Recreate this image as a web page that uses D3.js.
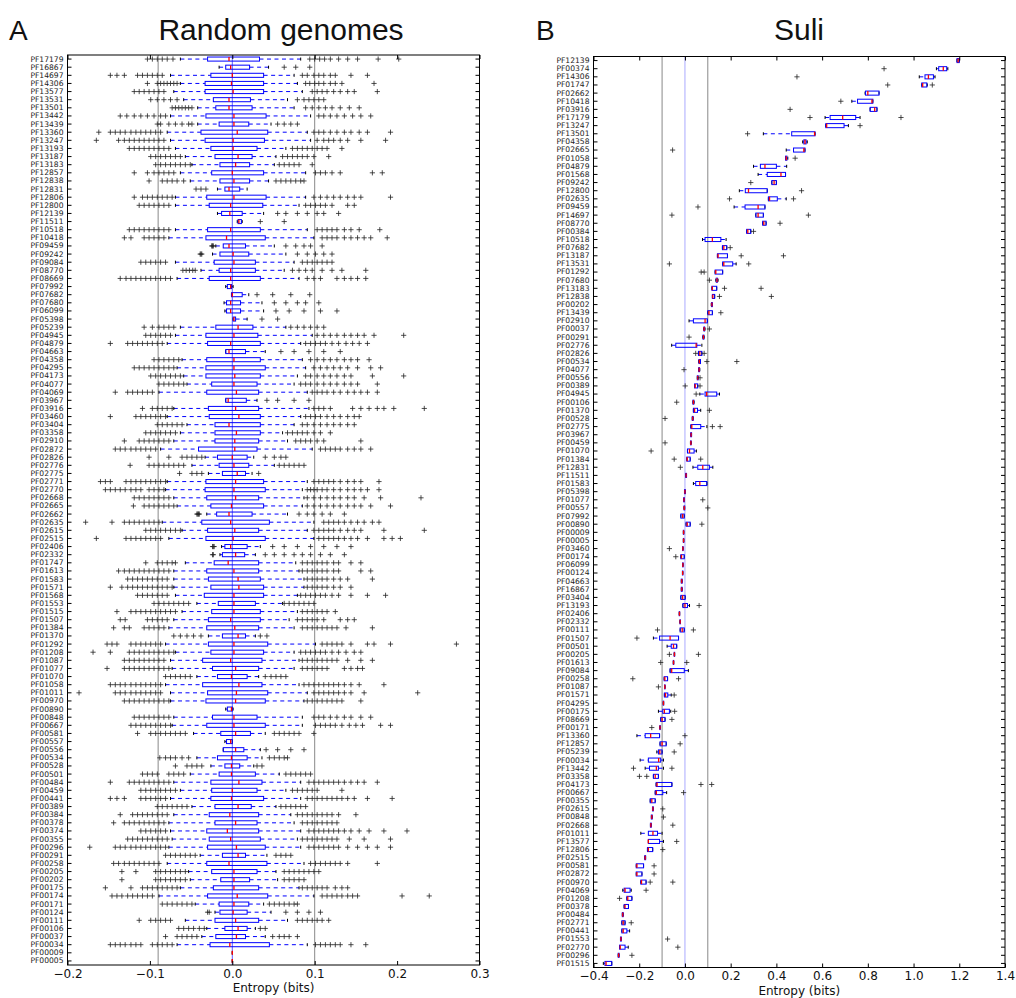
<!DOCTYPE html>
<html>
<head>
<meta charset="utf-8">
<script src="https://cdn.jsdelivr.net/npm/d3@7"></script>
<style>
  body { margin: 0; background: #fff; }
  text { font-family: "DejaVu Sans", sans-serif; }
</style>
</head>
<body>
<script>
// ---- Panel A : random genomes ----
const catsA = ["PF17179","PF16867","PF14697","PF14306","PF13577","PF13531","PF13501","PF13442","PF13439","PF13360",
"PF13247","PF13193","PF13187","PF13183","PF12857","PF12838","PF12831","PF12806","PF12800","PF12139",
"PF11511","PF10518","PF10418","PF09459","PF09242","PF09084","PF08770","PF08669","PF07992","PF07682",
"PF07680","PF06099","PF05398","PF05239","PF04945","PF04879","PF04663","PF04358","PF04295","PF04173",
"PF04077","PF04069","PF03967","PF03916","PF03460","PF03404","PF03358","PF02910","PF02872","PF02826",
"PF02776","PF02775","PF02771","PF02770","PF02668","PF02665","PF02662","PF02635","PF02615","PF02515",
"PF02406","PF02332","PF01747","PF01613","PF01583","PF01571","PF01568","PF01553","PF01515","PF01507",
"PF01384","PF01370","PF01292","PF01208","PF01087","PF01077","PF01070","PF01058","PF01011","PF00970",
"PF00890","PF00848","PF00667","PF00581","PF00557","PF00556","PF00534","PF00528","PF00501","PF00484",
"PF00459","PF00441","PF00389","PF00384","PF00378","PF00374","PF00355","PF00296","PF00291","PF00258",
"PF00205","PF00202","PF00175","PF00174","PF00171","PF00124","PF00111","PF00106","PF00037","PF00034",
"PF00009","PF00005"];

// whisker low, q1, median, q3, whisker high (bits)
const statsA = [
[-.063,-.030,-.004,.033,.083],[-.016,-.008,-.002,.021,.044],[-.075,-.026,0,.038,.075],[-.063,-.033,-.001,.038,.079],
[-.071,-.033,.001,.038,.085],[-.059,-.023,-.004,.022,.067],[-.042,-.020,-.004,.024,.075],[-.075,-.032,.002,.041,.095],
[-.042,-.016,.002,.020,.047],[-.079,-.038,.006,.043,.091],[-.075,-.033,.001,.039,.095],[-.069,-.026,.001,.030,.065],
[-.057,-.021,.007,.024,.053],[-.049,-.015,.004,.021,.051],[-.063,-.025,0,.038,.089],[-.051,-.015,.002,.021,.044],
[-.018,-.009,-.004,.009,.018],[-.069,-.031,.002,.041,.089],[-.069,-.028,-.002,.037,.081],[-.018,-.013,-.003,.012,.038],
[.006,.007,.008,.011,.012],[-.069,-.030,-.002,.034,.091],[-.077,-.032,-.007,.040,.099],[-.020,-.011,-.004,.016,.051],
[-.024,-.015,.001,.020,.065],[-.069,-.022,.002,.028,.075],[-.038,-.016,-.002,.028,.063],[-.067,-.028,-.002,.034,.081],
[-.008,-.006,-.002,-.001,.001],[-.001,-.001,0,.012,.020],[-.010,-.007,-.002,.010,.036],[-.009,-.007,-.002,.010,.038],
[.001,.001,.002,.004,.018],[-.063,-.020,.007,.025,.065],[-.069,-.032,.002,.031,.097],[-.079,-.030,-.002,.034,.083],
[-.008,-.008,-.004,.016,.040],[-.061,-.031,.002,.034,.085],[-.067,-.032,.002,.040,.089],[-.059,-.032,.003,.034,.079],
[-.055,-.025,.002,.030,.075],[-.089,-.031,.005,.032,.091],[-.008,-.008,-.005,.017,.030],[-.071,-.029,.004,.032,.093],
[-.079,-.028,.008,.034,.083],[-.055,-.021,-.004,.034,.075],[-.063,-.021,.005,.034,.061],[-.071,-.021,.003,.032,.067],
[-.087,-.041,.003,.030,.097],[-.033,-.018,0,.018,.026],[-.049,-.016,.002,.020,.051],[-.029,-.012,.006,.016,.024],
[-.079,-.032,.004,.038,.091],[-.081,-.033,.002,.040,.085],[-.071,-.031,.004,.032,.087],[-.067,-.026,-.001,.038,.085],
[-.031,-.019,-.004,.024,.067],[-.085,-.037,-.002,.045,.099],[-.061,-.030,.003,.032,.091],[-.077,-.032,.001,.040,.099],
[-.013,-.009,-.002,.018,.034],[-.015,-.012,.004,.015,.028],[-.057,-.022,-.005,.032,.077],[-.071,-.031,.002,.032,.081],
[-.071,-.029,.007,.034,.087],[-.071,-.026,.008,.038,.087],[-.069,-.034,.002,.038,.079],[-.043,-.017,.002,.028,.061],
[-.061,-.025,.002,.034,.079],[-.071,-.029,-.002,.034,.069],[-.077,-.031,.003,.032,.075],[-.029,-.012,.007,.016,.028],
[-.081,-.029,.002,.043,.101],[-.069,-.026,.002,.038,.075],[-.075,-.036,-.002,.036,.081],[-.073,-.024,.004,.032,.075],
[-.043,-.018,-.001,.018,.032],[-.081,-.036,.008,.036,.081],[-.075,-.030,.005,.043,.091],[-.075,-.032,.004,.040,.087],
[-.008,-.006,-.001,0,.001],[-.071,-.024,.002,.030,.085],[-.073,-.031,.002,.040,.085],[-.047,-.014,.004,.022,.040],
[-.009,-.007,-.002,0,0],[-.011,-.011,.004,.014,.034],[-.043,-.018,-.001,.018,.036],[-.026,-.009,-.001,.009,.026],
[-.051,-.016,-.001,.028,.057],[-.071,-.026,.008,.036,.083],[-.063,-.025,0,.030,.065],[-.075,-.026,-.001,.038,.083],
[-.049,-.021,.007,.023,.053],[-.071,-.028,-.003,.032,.071],[-.077,-.021,.004,.030,.075],[-.075,-.031,-.006,.032,.083],
[-.073,-.028,-.002,.034,.079],[-.077,-.030,.005,.040,.083],[-.039,-.012,.007,.016,.042],[-.079,-.031,-.004,.042,.087],
[-.053,-.025,.002,.030,.053],[-.051,-.014,.002,.021,.055],[-.063,-.023,.002,.032,.081],[-.089,-.030,.006,.043,.099],
[-.045,-.016,.002,.020,.038],[-.021,-.015,.001,.018,.047],[-.057,-.021,.004,.032,.067],[-.031,-.009,.007,.018,.028],
[-.037,-.020,.005,.016,.040],[-.067,-.027,-.003,.045,.091],[0,0,0,0,0],[0,0,0,0,0]
];

// outliers per family (bits)
const outA = [
[-.103,-.097,-.091,-.085,-.079,-.072,.094,.100,.106,.112,.119,.129,.140,.152,.177,.202],
[.063,.077,.094],
[-.148,-.140,-.131,-.115,-.109,-.103,-.097,-.091,-.085,.085,.091,.099,.105,.111,.119,.125,.144,.164],
[-.103,-.091,-.087,-.083,-.079,-.075,-.071,-.067,.089,.094,.100,.105,.111,.119,.125,.133,.172],
[-.119,-.113,-.107,-.101,-.095,-.089,-.083,.097,.103,.109,.115,.123,.131,.140,.148,.176],
[-.099,-.091,-.083,-.075,-.067,.079,.087,.093,.099,.105,.111],
[-.073,-.069,-.065,-.061,-.057,-.053,-.049,.089,.097,.105,.113,.121,.131,.142,.154],
[-.136,-.128,-.119,-.111,-.103,-.095,-.087,-.081,.105,.111,.119,.127,.136,.146,.156,.168],
[-.091,-.087,-.077,-.069,-.061,-.053,-.049,.055,.063,.071,.079],
[-.162,-.148,-.142,-.136,-.130,-.123,-.117,-.111,-.105,-.099,-.093,-.087,.099,.105,.111,.119,.127,.136,.144,.154,.164,.192],
[-.165,-.138,-.131,-.125,-.119,-.113,-.107,-.101,-.095,-.089,-.083,.103,.111,.117,.123,.131,.140,.156,.186],
[-.125,-.119,-.113,-.107,-.101,-.095,-.089,-.083,-.077,.073,.079,.085,.091,.097,.103,.109,.115,.133],
[-.099,-.093,-.087,-.081,-.075,-.069,-.063,.061,.067,.073,.079,.085,.091,.099,.117],
[-.093,-.087,-.081,-.075,-.069,-.063,-.057,-.051,.057,.063,.069,.075,.081,.097],
[-.119,-.103,-.095,-.089,-.083,-.077,-.071,.101,.107,.113,.121,.131,.170,.182],
[-.101,-.085,-.079,-.073,-.067,-.059,.053,.059,.065,.071,.077,.083,.087],
[-.044,-.038,-.032],
[-.119,-.109,-.103,-.097,-.091,-.085,-.079,-.073,.099,.107,.115,.123,.131,.140,.148,.156,.192],
[-.113,-.107,-.101,-.095,-.089,-.083,-.077,.089,.095,.101,.107,.113,.121,.140,.148],
[.055,.065,.079,.091,.103,.111,.129],
[.034,.063],
[-.125,-.119,-.113,-.107,-.101,-.095,-.089,-.083,-.077,.103,.109,.115,.121,.127,.136,.144,.154,.179],
[-.131,-.123,-.107,-.101,-.095,-.089,-.083,.109,.115,.121,.127,.136,.144,.152,.160,.168,.188],
[-.025,-.024,-.023,.065,.077,.087,.095,.109],
[-.039,-.038,-.037,.079,.091,.101,.111,.121],
[-.111,-.105,-.099,-.093,-.087,-.081,.085,.091,.097,.103,.109,.115,.121],
[-.060,-.056,-.052,-.048,-.045,.073,.081,.089,.097,.109,.121,.133,.162],
[-.136,-.129,-.123,-.117,-.111,-.105,-.099,-.093,-.087,-.081,-.075,.091,.099,.107,.127,.136,.144,.152,.162],
[],
[.030,.049,.071,.094],
[.051,.065,.079,.089,.105],
[.053,.069,.087,.107,.127],
[.036,.055],
[-.107,-.097,-.089,-.083,-.077,-.071,.071,.079,.087,.095,.103,.111],
[-.105,-.099,-.093,-.087,-.081,-.075,.103,.111,.119,.127,.136,.144,.152,.160,.172,.208],
[-.148,-.127,-.121,-.115,-.109,-.103,-.097,-.091,-.085,.089,.095,.101,.107,.113,.121,.129,.138,.146,.154,.164],
[.059,.075,.093,.111,.131],
[-.095,-.089,-.083,-.077,-.071,-.065,.095,.103,.111,.119,.127,.136,.144,.152,.166],
[-.119,-.113,-.107,-.101,-.095,-.089,-.083,-.077,-.071,.099,.107,.115,.123,.131,.140,.152,.168,.180],
[-.099,-.093,-.087,-.081,-.075,-.069,-.063,.089,.095,.103,.111,.119,.127,.136,.144,.170,.208],
[-.089,-.083,-.077,-.071,-.065,-.059,.083,.089,.095,.103,.111,.119,.127,.136,.144,.152,.176],
[-.142,-.127,-.121,-.115,-.109,-.103,-.097,.097,.103,.109,.115,.123,.131,.140,.148,.156,.164,.176],
[.042,.055,.075,.093],
[-.109,-.097,-.091,-.085,-.079,-.073,.099,.105,.111,.119,.146,.156,.166,.176,.184,.196,.233],
[-.148,-.117,-.111,-.105,-.099,-.093,-.087,-.081,.089,.095,.101,.107,.115,.123,.131,.140,.148,.154],
[-.091,-.085,-.079,-.073,-.067,-.061,.085,.091,.099,.107,.115,.123,.131,.140,.148],
[-.105,-.099,-.093,-.087,-.081,-.075,-.069,.067,.073,.079,.085,.091,.099,.107,.119],
[-.131,-.113,-.107,-.101,-.095,-.089,-.083,-.077,.077,.083,.089,.095,.103,.111,.156],
[-.142,-.136,-.130,-.123,-.117,-.111,-.105,-.099,-.093,.107,.113,.119,.125,.131,.140,.148,.156,.168],
[-.101,-.077,-.061,-.055,-.049,-.043,-.037,.040,.051,.059,.065],
[-.124,-.101,-.095,-.089,-.083,-.077,-.071,-.065,-.059,.057,.063,.069,.075,.081,.087],
[-.064,-.049,-.043,-.037,.032],
[-.160,-.154,-.148,-.129,-.123,-.117,-.111,-.105,-.099,-.093,-.087,-.081,.099,.105,.111,.117,.123,.131,.140,.148,.156,.178],
[-.154,-.148,-.142,-.136,-.130,-.123,-.117,-.111,-.101,-.095,-.089,-.083,.091,.095,.099,.103,.109,.115,.123,.131,.140,.148,.156,.164,.178],
[-.119,-.113,-.107,-.101,-.095,-.089,-.083,-.077,.091,.099,.107,.115,.123,.131,.140,.148,.160,.180,.229],
[-.120,-.107,-.101,-.095,-.089,-.083,-.077,-.071,.091,.099,.107,.115,.123,.131,.140,.148,.156,.168,.192],
[-.043,-.042,-.041,-.040,.081,.091,.099,.109,.119,.136],
[-.178,-.146,-.131,-.125,-.119,-.113,-.107,-.101,-.095,-.089,.111,.117,.123,.129,.136,.144,.152,.160,.170,.178],
[-.105,-.099,-.093,-.087,-.081,-.075,-.069,-.063,.099,.105,.111,.117,.123,.131,.140,.148,.156,.184,.233],
[-.165,-.129,-.123,-.117,-.111,-.105,-.099,-.093,-.087,.105,.111,.117,.123,.129,.136,.144,.152,.164,.184,.194,.204],
[-.024,-.023,-.022,.049,.063,.079,.095,.111,.127,.144],
[-.024,-.023,.040,.051,.063,.075,.085,.095,.107,.119,.136],
[-.105,-.091,-.085,-.079,-.073,-.069,.085,.091,.097,.103,.109,.115,.123,.129,.144,.156],
[-.138,-.131,-.125,-.119,-.113,-.107,-.101,-.095,-.089,-.083,-.077,.085,.091,.097,.103,.109,.115,.123,.129,.156,.168],
[-.127,-.121,-.115,-.109,-.103,-.097,-.091,-.085,-.079,.091,.097,.103,.109,.115,.123,.131,.140,.170],
[-.148,-.134,-.127,-.121,-.115,-.109,-.103,-.097,-.091,-.085,-.079,-.073,.091,.097,.103,.109,.115,.123,.131,.144],
[-.115,-.109,-.103,-.097,-.091,-.085,-.079,.083,.089,.095,.101,.107,.113,.121,.129,.144,.164,.186],
[-.095,-.089,-.083,-.077,-.071,-.065,-.059,-.053,.063,.069,.075,.081,.087,.093,.099],
[-.140,-.123,-.117,-.111,-.105,-.099,-.093,-.087,-.081,-.075,-.069,.085,.091,.097,.103,.109,.115,.125],
[-.136,-.130,-.103,-.097,-.091,-.085,-.079,.079,.085,.091,.097,.103,.111,.131,.140,.148],
[-.144,-.131,-.125,-.107,-.101,-.095,-.089,-.083,.085,.091,.097,.103,.109,.115,.121,.127,.138,.170],
[-.071,-.063,-.055,-.047,-.038,.034,.042],
[-.152,-.146,-.140,-.123,-.117,-.111,-.105,-.099,-.093,-.087,.109,.115,.121,.127,.133,.144,.164,.172,.192,.272],
[-.169,-.148,-.125,-.119,-.113,-.107,-.101,-.095,-.089,-.083,-.077,-.071,.083,.089,.095,.101,.107,.113,.121,.129,.138,.148,.156],
[-.131,-.125,-.119,-.113,-.107,-.101,-.095,-.089,-.083,.085,.091,.097,.103,.109,.115,.121,.127,.140,.156,.170],
[-.152,-.131,-.125,-.119,-.113,-.107,-.101,-.095,-.089,-.083,-.077,.085,.091,.097,.103,.109,.115,.136,.144,.152,.158],
[-.081,-.075,-.069,-.063,-.057,-.051,.040,.047,.053,.059,.065],
[-.148,-.142,-.136,-.130,-.123,-.117,-.111,-.105,-.099,-.093,-.087,.087,.093,.099,.105,.111,.117,.123,.129,.136,.144,.154,.184],
[-.186,-.142,-.136,-.130,-.123,-.117,-.111,-.105,-.099,-.093,-.087,.099,.105,.111,.117,.123,.129,.136,.144,.160,.225],
[-.131,-.125,-.119,-.113,-.107,-.101,-.095,-.089,-.083,-.077,.091,.097,.103,.109,.115,.121,.127,.133,.156],
[],
[-.119,-.113,-.107,-.101,-.095,-.089,-.083,-.077,.099,.105,.111,.119,.127,.136,.144,.156,.168],
[-.123,-.117,-.111,-.105,-.099,-.093,-.087,-.081,-.075,.101,.107,.113,.119,.125,.133,.142,.150,.158,.180,.192],
[-.115,-.099,-.093,-.087,-.081,-.075,-.069,-.063,-.057,.051,.057,.063,.069,.075,.081,.099],
[],
[.041,.055,.071,.087],
[-.088,-.081,-.075,-.069,-.061,-.053,.045,.051,.057,.063,.067],
[-.069,-.055,-.049,-.043,-.037,.030,.036],
[-.109,-.103,-.097,-.091,-.077,-.071,-.065,-.059,.065,.071,.077,.083,.089,.095],
[-.148,-.125,-.119,-.113,-.107,-.101,-.095,-.089,-.083,-.077,.093,.099,.105,.111,.117,.123,.129,.136,.144,.152,.160,.176],
[-.111,-.105,-.099,-.093,-.087,-.081,-.075,-.069,.073,.079,.085,.091,.097,.103,.133],
[-.148,-.140,-.131,-.111,-.105,-.099,-.093,-.087,-.081,.091,.097,.103,.109,.115,.121,.127,.133,.140,.148,.164,.194],
[-.091,-.085,-.079,-.073,-.067,-.061,-.055,.059,.065,.071,.077,.083,.089],
[-.136,-.121,-.115,-.109,-.103,-.097,-.091,-.085,-.079,.079,.085,.091,.097,.103,.109,.115,.121,.129,.150],
[-.144,-.131,-.125,-.119,-.113,-.107,-.101,-.095,-.089,-.083,.085,.091,.097,.103,.109,.115,.121,.127],
[-.111,-.105,-.099,-.093,-.087,-.081,.093,.099,.105,.111,.117,.123,.129,.136,.144,.154,.166,.184,.212],
[-.127,-.121,-.115,-.109,-.103,-.097,-.091,-.085,-.079,.085,.091,.097,.103,.109,.115,.121,.127,.142,.160,.192],
[-.173,-.142,-.136,-.130,-.123,-.117,-.111,-.105,-.099,-.093,-.087,-.081,.093,.099,.105,.111,.117,.123,.129,.140,.152,.164,.176,.192],
[-.081,-.075,-.069,-.063,-.057,-.051,-.045,.053,.059,.065,.071],
[-.144,-.138,-.131,-.125,-.119,-.113,-.107,-.101,-.095,-.089,.095,.101,.107,.113,.119,.125,.131,.140,.176],
[-.134,-.117,-.093,-.087,-.081,-.075,-.069,-.063,-.057,.063,.069,.075,.081,.087,.093,.099,.105],
[-.134,-.093,-.087,-.081,-.075,-.069,-.063,-.057,.063,.069,.075,.081,.087],
[-.154,-.123,-.109,-.103,-.097,-.091,-.085,-.079,-.073,-.067,.085,.091,.097,.103,.109,.115,.125,.133,.140],
[-.146,-.140,-.134,-.127,-.121,-.115,-.109,-.103,-.097,.109,.115,.121,.127,.133,.140,.146,.152,.206,.239],
[-.085,-.079,-.073,-.067,-.061,-.055,-.049,.045,.051,.057,.063,.069,.075,.079],
[-.030,-.028,.065,.079,.093,.107],
[-.113,-.099,-.093,-.087,-.081,-.075,.079,.085,.091,.097,.103,.109,.117],
[-.065,-.059,-.053,-.047,-.040,-.034,.034,.040],
[-.081,-.067,-.061,-.055,-.049,-.043,.049,.057,.063,.069,.079],
[-.148,-.142,-.136,-.130,-.123,-.117,-.111,-.097,-.091,-.085,-.079,-.073,.101,.107,.113,.119,.125,.131,.144,.162],
[],[]
];

// ---- Panel B : Suli ----
const catsB = ["PF12139","PF00374","PF14306","PF01747","PF02662","PF10418","PF03916","PF17179","PF13247","PF13501",
"PF04358","PF02665","PF01058","PF04879","PF01568","PF09242","PF12800","PF02635","PF09459","PF14697",
"PF08770","PF00384","PF10518","PF07682","PF13187","PF13531","PF01292","PF07680","PF13183","PF12838",
"PF00202","PF13439","PF02910","PF00037","PF00291","PF02776","PF02826","PF00534","PF04077","PF00556",
"PF00389","PF04945","PF00106","PF01370","PF00528","PF02775","PF03967","PF00459","PF01070","PF01384",
"PF12831","PF11511","PF01583","PF05398","PF01077","PF00557","PF07992","PF00890","PF00009","PF00005",
"PF03460","PF00174","PF06099","PF00124","PF04663","PF16867","PF03404","PF13193","PF02406","PF02332",
"PF00111","PF01507","PF00501","PF00205","PF01613","PF09084","PF00258","PF01087","PF01571","PF04295",
"PF00175","PF08669","PF00171","PF13360","PF12857","PF05239","PF00034","PF13442","PF03358","PF04173",
"PF00667","PF00355","PF02615","PF00848","PF02668","PF01011","PF13577","PF12806","PF02515","PF00581",
"PF02872","PF00970","PF04069","PF01208","PF00378","PF00484","PF02771","PF00441","PF01553","PF02770",
"PF00296","PF01515"];

const statsB = [
[1.19,1.19,1.195,1.20,1.20],[1.10,1.11,1.13,1.145,1.15],[1.025,1.05,1.065,1.087,1.094],[1.036,1.036,1.04,1.058,1.06],
[.788,.79,.80,.849,.849],[.73,.755,.818,.822,.822],[.81,.81,.83,.84,.84],[.613,.635,.69,.747,.766],
[.616,.616,.62,.696,.715],[.343,.467,.567,.569,.569],[.515,.52,.525,.53,.535],[.443,.475,.52,.525,.525],
[.44,.44,.443,.446,.45],[.30,.33,.35,.40,.445],[.32,.36,.42,.44,.44],[.38,.38,.39,.40,.40],
[.238,.264,.278,.36,.36],[.365,.365,.37,.404,.443],[.215,.263,.32,.35,.35],[.31,.31,.32,.343,.343],
[.34,.34,.345,.355,.355],[.27,.27,.275,.288,.288],[.077,.088,.12,.157,.18],[.164,.164,.17,.183,.183],
[.142,.142,.145,.186,.186],[.165,.165,.17,.209,.224],[.132,.132,.135,.165,.165],[.135,.137,.14,.142,.145],
[.118,.118,.12,.139,.139],[.12,.12,.122,.13,.13],[.115,.116,.118,.12,.12],[.10,.10,.105,.12,.12],
[.018,.037,.088,.098,.098],[.082,.083,.084,.086,.088],[.078,.079,.081,.083,.084],[-.058,-.04,.049,.052,.074],
[.059,.059,.065,.074,.074],[.06,.061,.063,.068,.068],[.06,.06,.062,.064,.065],[.054,.054,.056,.058,.058],
[.042,.042,.045,.056,.056],[.065,.088,.095,.139,.151],[.035,.035,.037,.039,.04],[.037,.037,.042,.055,.069],
[.032,.032,.034,.036,.036],[.026,.026,.03,.069,.096],[.025,.025,.027,.029,.029],[.024,.025,.026,.027,.028],
[.011,.011,.02,.04,.05],[.008,.008,.01,.023,.023],[.035,.056,.078,.107,.122],[.003,.003,.005,.007,.007],
[.037,.047,.065,.096,.096],[-.002,-.002,0,.002,.002],[-.006,-.006,-.004,-.002,-.002],[-.004,-.004,-.003,-.001,-.001],
[-.018,-.018,-.01,-.003,-.003],[.005,.005,.01,.023,.023],[-.007,-.007,-.006,-.005,-.005],[-.007,-.007,-.006,-.005,-.005],
[-.01,-.01,-.009,-.008,-.008],[-.018,-.018,-.015,-.003,-.003],[-.01,-.01,-.009,-.008,-.008],[-.011,-.011,-.01,-.009,-.009],
[-.016,-.016,-.014,-.012,-.012],[-.016,-.016,-.014,-.012,-.012],[-.018,-.018,-.01,.001,.001],[-.009,-.009,0,.011,.02],
[-.025,-.025,-.024,-.023,-.023],[-.022,-.022,-.021,-.020,-.020],[-.021,-.021,-.012,-.003,-.003],[-.138,-.111,-.065,-.028,-.028],
[-.078,-.06,-.05,-.036,-.036],[-.047,-.047,-.046,-.045,-.045],[-.051,-.051,-.05,-.049,-.049],[-.065,-.065,-.058,-.003,.015],
[-.091,-.091,-.088,-.076,-.076],[-.089,-.089,-.088,-.087,-.087],[-.09,-.09,-.085,-.075,-.06],[-.095,-.095,-.094,-.093,-.093],
[-.116,-.097,-.09,-.068,-.062],[-.106,-.106,-.1,-.087,-.087],[-.11,-.11,-.109,-.108,-.108],[-.21,-.174,-.15,-.111,-.111],
[-.109,-.109,-.1,-.082,-.082],[-.123,-.116,-.11,-.10,-.10],[-.196,-.16,-.115,-.106,-.094],[-.174,-.155,-.125,-.116,-.094],
[-.138,-.138,-.13,-.116,-.116],[-.126,-.126,-.122,-.057,-.057],[-.13,-.13,-.125,-.097,-.08],[-.152,-.152,-.145,-.13,-.13],
[-.142,-.142,-.14,-.138,-.138],[-.147,-.147,-.145,-.143,-.143],[-.151,-.151,-.149,-.147,-.147],[-.193,-.16,-.14,-.12,-.10],
[-.16,-.16,-.16,-.111,-.094],[-.164,-.164,-.16,-.141,-.141],[-.176,-.176,-.174,-.172,-.172],[-.213,-.213,-.21,-.181,-.181],
[-.213,-.213,-.21,-.188,-.188],[-.193,-.193,-.19,-.17,-.17],[-.272,-.266,-.262,-.24,-.235],[-.254,-.254,-.25,-.232,-.232],
[-.266,-.266,-.262,-.247,-.247],[-.274,-.274,-.272,-.270,-.270],[-.276,-.276,-.27,-.262,-.262],[-.276,-.276,-.27,-.254,-.242],
[-.282,-.282,-.28,-.278,-.278],[-.286,-.286,-.283,-.262,-.248],[-.292,-.292,-.29,-.288,-.288],[-.357,-.35,-.345,-.32,-.32]
];

const outB = [
[],[.871],[.49],[1.082,.887],[],[.682],[.46],[.547,.945],[.766],[.274],
[],[-.054],[.482],[],[],[.288],[.51],[.475,.195],[.057],[.54,-.057],
[.416],[.30],[],[.198],[.246,.431],[.279,-.068],[.071,.084],[.107],[.173,.333],[.151,.378],
[],[.157],[],[.107],[.018],[],[.047,.084],[.096,.227],[-.004],[.066],
[.001,.066],[.049],[-.036],[.107],[-.087],[.12,.154],[],[-.087],[-.148],[-.047,.069],
[-.02],[],[],[],[.078],[.10],[],[.074],[],[],
[-.068],[-.04],[],[],[],[],[],[.062],[],[],
[-.12,.037],[-.21],[],[-.068,.059],[-.106,.008],[],[-.228,-.028],[-.116],[-.047],[],
[-.045],[-.057],[-.145],[0],[-.021],[-.047],[],[-.225,-.057],[-.199,-.167],[.07,.117],
[-.006],[],[-.097],[-.094],[-.053],[],[-.036],[-.097],[],[-.135],
[-.135],[-.152,-.053],[-.17],[-.286],[],[],[-.235],[],[-.076],[-.031],
[-.232],[]
];

const ticksA = [-0.2, -0.1, 0, 0.1, 0.2, 0.3];
const ticksB = [-0.4, -0.2, 0, 0.2, 0.4, 0.6, 0.8, 1.0, 1.2, 1.4];
const refsA = [-0.09, 0, 0.1];
const refsB = [-0.1, 0, 0.1];

const width = 1016, height = 998;
const svg = d3.select("body").append("svg").attr("width", width).attr("height", height);

function drawPanel(cats, stats, out, x, y, ticks, refs, zeroColor, labelY) {
    const g = svg.append("g");
    const h = y.bandwidth();
    const bh = h * 0.5;
    const top = y.range()[0], bottom = y.range()[1];
    const left = x.range()[0], right = x.range()[1];

    // vertical reference lines
    g.selectAll("line.ref").data(refs).join("line")
        .attr("x1", d => x(d)).attr("x2", d => x(d))
        .attr("y1", top).attr("y2", bottom)
        .attr("stroke", d => d === 0 ? zeroColor : "#7a7a7a")
        .attr("stroke-width", 0.9);

    const rows = g.selectAll("g.row")
        .data(cats.map((c, i) => ({ c: c, s: stats[i], o: out[i] })))
        .join("g")
        .attr("transform", d => "translate(0," + (y(d.c) + h / 2) + ")");

    // whiskers (dashed)
    rows.filter(d => d.s[1] > d.s[0]).append("line")
        .attr("x1", d => x(d.s[0])).attr("x2", d => x(d.s[1]))
        .attr("stroke", "#0000ff").attr("stroke-width", 1).attr("stroke-dasharray", "4,3.5");
    rows.filter(d => d.s[4] > d.s[3]).append("line")
        .attr("x1", d => x(d.s[3])).attr("x2", d => x(d.s[4]))
        .attr("stroke", "#0000ff").attr("stroke-width", 1).attr("stroke-dasharray", "4,3.5");

    // caps
    rows.selectAll("line.cap").data(d => [d.s[0], d.s[4]]).join("line")
        .attr("x1", v => x(v)).attr("x2", v => x(v))
        .attr("y1", -bh / 4 - 0.5).attr("y2", bh / 4 + 0.5)
        .attr("stroke", "#000").attr("stroke-width", 1);

    // box
    rows.append("rect")
        .attr("x", d => x(d.s[1])).attr("width", d => x(d.s[3]) - x(d.s[1]))
        .attr("y", -bh / 2).attr("height", bh)
        .attr("fill", "none").attr("stroke", "#0000ff").attr("stroke-width", 1);

    // median
    rows.append("line")
        .attr("x1", d => x(d.s[2])).attr("x2", d => x(d.s[2]))
        .attr("y1", -bh / 2).attr("y2", bh / 2)
        .attr("stroke", "#ff0000").attr("stroke-width", 1.3);

    // outliers
    rows.selectAll("path.fl").data(d => d.o).join("path")
        .attr("d", v => "M" + (x(v) - 2.6) + ",0h5.2M" + x(v) + ",-2.6v5.2")
        .attr("stroke", "#222").attr("stroke-width", 0.8).attr("fill", "none");

    // frame
    g.append("rect").attr("x", left).attr("y", top)
        .attr("width", right - left).attr("height", bottom - top)
        .attr("fill", "none").attr("stroke", "#000").attr("stroke-width", 1);

    // axes, ticks pointing inwards
    const fmt = d3.format(".1f");
    const yl = g.append("g").attr("transform", "translate(" + left + ",0)")
        .call(d3.axisLeft(y).tickSize(-4).tickPadding(4));
    yl.select(".domain").remove();
    yl.selectAll("text").attr("font-size", 7.6).attr("fill", "#222").attr("font-family", "DejaVu Sans");
    const yr = g.append("g").attr("transform", "translate(" + right + ",0)")
        .call(d3.axisRight(y).tickSize(-4).tickFormat(""));
    yr.select(".domain").remove();

    const xb = g.append("g").attr("transform", "translate(0," + bottom + ")")
        .call(d3.axisBottom(x).tickValues(ticks).tickFormat(fmt).tickSize(-4).tickPadding(4));
    xb.select(".domain").remove();
    xb.selectAll("text").attr("font-size", 12).attr("fill", "#111").attr("font-family", "DejaVu Sans");
    const xt = g.append("g").attr("transform", "translate(0," + top + ")")
        .call(d3.axisTop(x).tickValues(ticks).tickFormat("").tickSize(-4));
    xt.select(".domain").remove();

    g.append("text").attr("x", (left + right) / 2).attr("y", labelY)
        .attr("text-anchor", "middle").attr("font-size", 12).attr("fill", "#111")
        .text("Entropy (bits)");
}

const xA = d3.scaleLinear().domain([-0.2, 0.3]).range([67.5, 479.5]);
const yA = d3.scaleBand().domain(catsA).range([55, 965]).padding(0);
const xB = d3.scaleLinear().domain([-0.4, 1.4]).range([593.5, 1005]);
const yB = d3.scaleBand().domain(catsB).range([56.5, 967.5]).padding(0);

drawPanel(catsA, statsA, outA, xA, yA, ticksA, refsA, "#4d4dff", 992);
drawPanel(catsB, statsB, outB, xB, yB, ticksB, refsB, "#a0a0ff", 995);

// panel letters and titles
const head = [
    { t: "A", x: 9, size: 28, anchor: "start" },
    { t: "Random genomes", x: 281, size: 30, anchor: "middle" },
    { t: "B", x: 536, size: 28, anchor: "start" },
    { t: "Suli", x: 799, size: 30, anchor: "middle" }
];
svg.selectAll("text.head").data(head).join("text")
    .attr("x", d => d.x).attr("y", 40)
    .attr("text-anchor", d => d.anchor)
    .attr("font-size", d => d.size).attr("fill", "#111")
    .style("font-family", "'Liberation Sans', Arial, sans-serif")
    .text(d => d.t);
</script>
</body>
</html>
